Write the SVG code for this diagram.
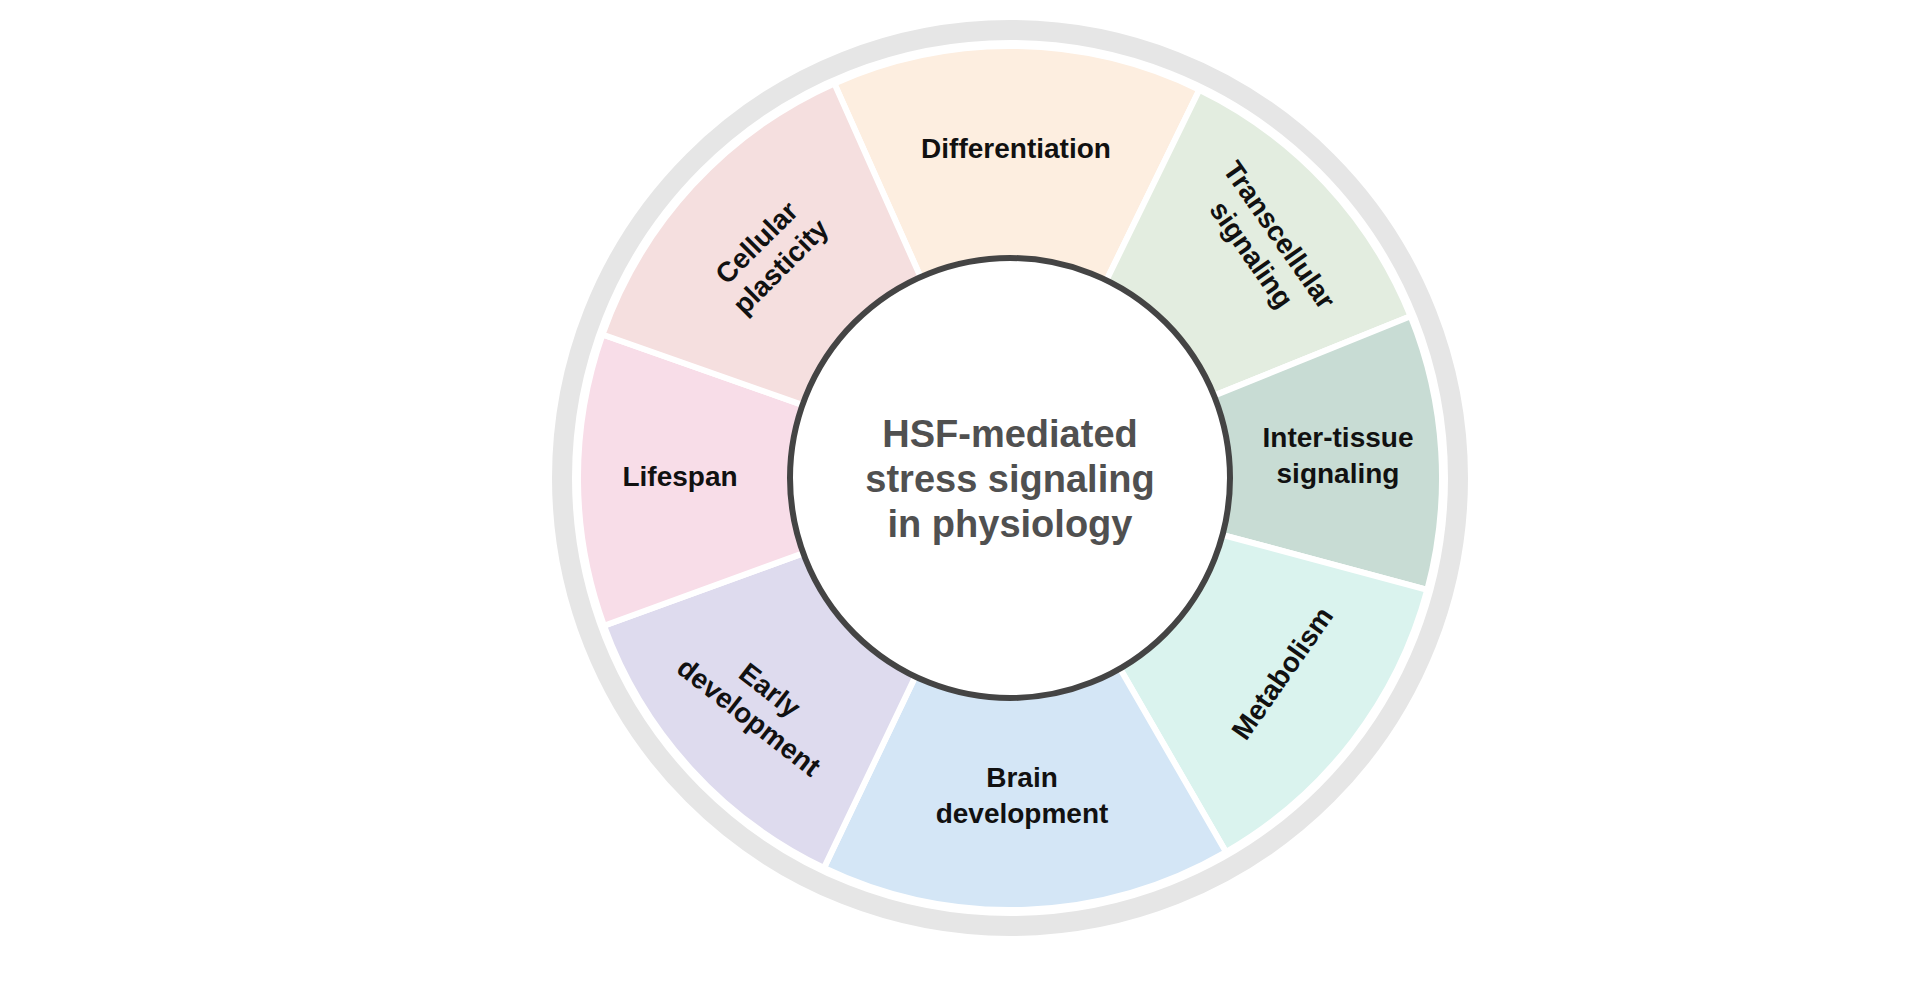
<svg xmlns="http://www.w3.org/2000/svg" width="1920" height="981" viewBox="0 0 1920 981">
<style>
.seg{stroke:#fff;stroke-width:6}
.t{font-family:"Liberation Sans",Arial,sans-serif;font-weight:bold;font-size:28px;fill:#111;text-anchor:middle}
.c{font-family:"Liberation Sans",Arial,sans-serif;font-weight:bold;font-size:38px;fill:#505050;text-anchor:middle}
</style>
<rect width="1920" height="981" fill="#fff"/>
<circle cx="1010" cy="478" r="448" fill="none" stroke="#e6e6e6" stroke-width="20"/>
<g id="differentiation"><path class="seg" fill="#fdeee0" d="M834.3,83.4 A432,432 0 0 1 1199.4,89.7 L1097.7,298.2 A200,200 0 0 0 928.7,295.3 Z"/><text class="t" x="1016" y="158">Differentiation</text></g>
<g id="transcellular"><path class="seg" fill="#e3ede0" d="M1199.4,89.7 A432,432 0 0 1 1410.6,316.2 L1195.4,403.1 A200,200 0 0 0 1097.7,298.2 Z"/><text class="t" transform="translate(1265,245) rotate(55)"><tspan x="0" y="-8">Transcellular</tspan><tspan x="0" y="26">signaling</tspan></text></g>
<g id="intertissue"><path class="seg" fill="#c8dcd4" d="M1410.6,316.2 A432,432 0 0 1 1427.3,589.8 L1203.2,529.8 A200,200 0 0 0 1195.4,403.1 Z"/><text class="t" x="1338" y="447">Inter-tissue</text><text class="t" x="1338" y="483">signaling</text></g>
<g id="metabolism"><path class="seg" fill="#daf3ee" d="M1427.3,589.8 A432,432 0 0 1 1226,852.1 L1110,651.2 A200,200 0 0 0 1203.2,529.8 Z"/><text class="t" transform="translate(1282,673) rotate(-55)" y="10">Metabolism</text></g>
<g id="brain"><path class="seg" fill="#d4e6f6" d="M1226,852.1 A432,432 0 0 1 824,867.9 L923.9,658.5 A200,200 0 0 0 1110,651.2 Z"/><text class="t" x="1022" y="787">Brain</text><text class="t" x="1022" y="823">development</text></g>
<g id="early"><path class="seg" fill="#dedbee" d="M824,867.9 A432,432 0 0 1 604,625.7 L822.1,546.4 A200,200 0 0 0 923.9,658.5 Z"/><text class="t" transform="translate(759,704) rotate(38)"><tspan x="0" y="-8">Early</tspan><tspan x="0" y="26">development</tspan></text></g>
<g id="lifespan"><path class="seg" fill="#f8dde8" d="M604,625.7 A432,432 0 0 1 602.5,334.5 L821.4,411.6 A200,200 0 0 0 822.1,546.4 Z"/><text class="t" x="680" y="486">Lifespan</text></g>
<g id="cellular"><path class="seg" fill="#f5dfdf" d="M602.5,334.5 A432,432 0 0 1 834.3,83.4 L928.7,295.3 A200,200 0 0 0 821.4,411.6 Z"/><text class="t" transform="translate(769,255) rotate(-45)"><tspan x="0" y="-8">Cellular</tspan><tspan x="0" y="26">plasticity</tspan></text></g>
<g id="center"><circle cx="1010" cy="478" r="220" fill="#fff" stroke="#444" stroke-width="6"/><text class="c" x="1010" y="447">HSF-mediated</text><text class="c" x="1010" y="492">stress signaling</text><text class="c" x="1010" y="537">in physiology</text></g>
<g id="connectors"/>
</svg>
